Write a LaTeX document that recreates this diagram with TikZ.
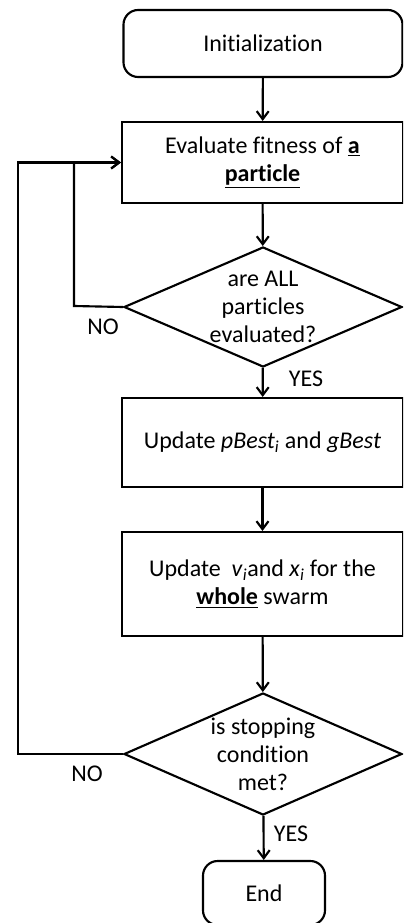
\documentclass[tikz,border=0pt]{standalone}
\usepackage{fontspec}
\setmainfont{Carlito}[Ligatures={NoCommon}]
\usetikzlibrary{shapes.geometric,arrows.meta}

\begin{document}
\begin{tikzpicture}[x=0.75pt,y=-0.75pt,
  line width=1.6pt,
  every node/.style={font=\fontsize{18}{21}\selectfont},
  box/.style={draw, rectangle, inner sep=0pt, align=center},
  terminal/.style={box, rounded corners=11pt},
  decision/.style={draw, diamond, inner sep=0pt},
  arr/.style={-{Straight Barb[length=6pt,width=9pt]}},
  tag/.style={inner sep=0pt}
]
\clip (0,0) rectangle (403,923);

% process steps
\node[terminal, minimum width=209.25pt, minimum height=50.25pt] (init) at (263,43.5) {Initialization};
\node[box, minimum width=210.75pt, minimum height=60.75pt] (eval) at (262.5,162.5)
  {Evaluate fitness of \underline{\textbf{a}}\\\underline{\textbf{particle}}};
\node[decision, minimum width=208.5pt, minimum height=90pt,
  label={[align=center, inner sep=0pt]center:are ALL\\particles\\evaluated?}] (d1) at (263,307) {};
\node[box, minimum width=210.75pt, minimum height=66.75pt] (pbest) at (262.5,442.5)
  {Update \textit{pBest}\textsubscript{\textit{i}} and \textit{gBest}};
\node[box, minimum width=210.75pt, minimum height=78pt] (move) at (262.5,584)
  {Update~~\textit{v}\textsubscript{\textit{i}}and \textit{x}\textsubscript{\textit{i}} for the\\\underline{\textbf{whole}} swarm};
\node[decision, minimum width=208.5pt, minimum height=91.5pt,
  label={[align=center, inner sep=0pt]center:is stopping\\condition\\met?}] (d2) at (263,754) {};
\node[terminal, minimum width=91.5pt, minimum height=48pt] (fin) at (264,893) {End};

% flow
\draw[arr] (init) -- (eval);
\draw[arr] (eval) -- (d1);
\draw[arr] (d1) -- (pbest);
\draw[arr] (pbest) -- (move);
\draw[arr] (move) -- (d2);
\draw[arr] (d2) -- (fin);

% loops back to the fitness evaluation
\coordinate (inner) at (74,306);
\coordinate (outer) at (18,754);
\draw[arr] (d1.west) -- (inner) |- (eval.west);
\draw[arr] (d2.west) -- (outer) |- (eval.west);

% branch labels
\node[tag] (no1) at (103,327) {NO};
\node[tag] (yes1) at (306,379) {YES};
\node[tag] (no2) at (87,774) {NO};
\node[tag] (yes2) at (291,834) {YES};
\end{tikzpicture}
\end{document}
